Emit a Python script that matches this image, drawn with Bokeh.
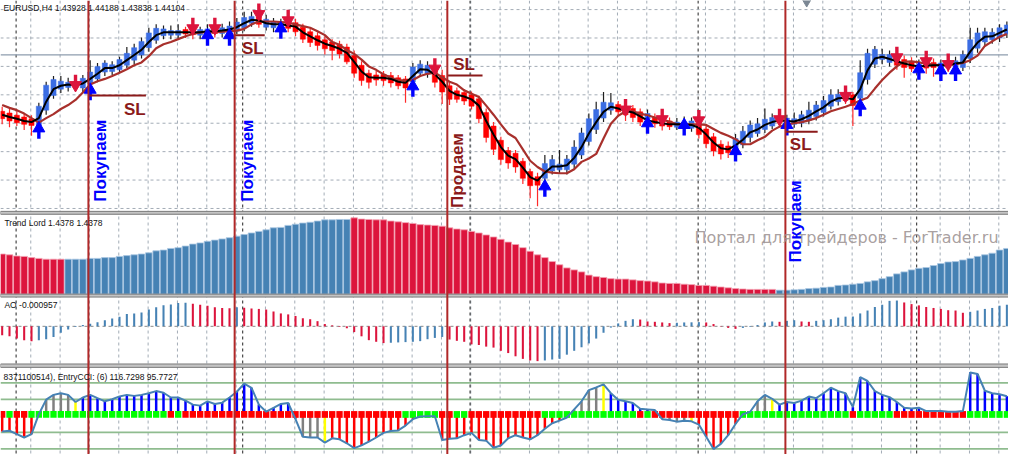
import math
from bokeh.plotting import figure
from bokeh.models import Range1d, Span, Label, ColumnDataSource
from bokeh.embed import file_html
from bokeh.resources import INLINE

# ---------------- data (EURUSD H4) ----------------
bar_open = [
    1.4311, 1.4308, 1.4304, 1.4301, 1.4298, 1.4286, 1.4313, 1.4339, 1.4350, 1.4353,
    1.4363, 1.4352, 1.4360, 1.4368, 1.4380, 1.4381, 1.4384, 1.4392, 1.4401, 1.4410,
    1.4423, 1.4436, 1.4444, 1.4445, 1.4445, 1.4455, 1.4455, 1.4445, 1.4446, 1.4458,
    1.4448, 1.4448, 1.4452, 1.4458, 1.4466, 1.4477, 1.4459, 1.4458, 1.4458, 1.4468,
    1.4467, 1.4459, 1.4451, 1.4444, 1.4437, 1.4433, 1.4429, 1.4424, 1.4409, 1.4392,
    1.4378, 1.4375, 1.4376, 1.4374, 1.4370, 1.4368, 1.4363, 1.4378, 1.4377, 1.4386,
    1.4374, 1.4356, 1.4347, 1.4344, 1.4340, 1.4333, 1.4309, 1.4285, 1.4260, 1.4242,
    1.4237, 1.4223, 1.4205, 1.4196, 1.4193, 1.4206, 1.4208, 1.4208, 1.4218, 1.4234,
    1.4258, 1.4279, 1.4299, 1.4313, 1.4323, 1.4319, 1.4316, 1.4310, 1.4297, 1.4300,
    1.4296, 1.4294, 1.4283, 1.4283, 1.4281, 1.4290, 1.4280, 1.4266, 1.4253, 1.4250,
    1.4243, 1.4252, 1.4265, 1.4272, 1.4279, 1.4285, 1.4301, 1.4289, 1.4288, 1.4290,
    1.4295, 1.4302, 1.4309, 1.4320, 1.4328, 1.4341, 1.4340, 1.4334, 1.4367, 1.4394,
    1.4402, 1.4397, 1.4406, 1.4402, 1.4398, 1.4385, 1.4397, 1.4397, 1.4387, 1.4398,
    1.4389, 1.4388, 1.4404, 1.4422, 1.4433, 1.4437, 1.4440, 1.4447]
bar_close = [
    1.4298, 1.4294, 1.4291, 1.4288, 1.4286, 1.4320, 1.4357, 1.4367, 1.4364, 1.4362,
    1.4353, 1.4369, 1.4380, 1.4390, 1.4396, 1.4393, 1.4402, 1.4413, 1.4423, 1.4434,
    1.4449, 1.4457, 1.4456, 1.4453, 1.4453, 1.4447, 1.4446, 1.4455, 1.4456, 1.4448,
    1.4458, 1.4461, 1.4468, 1.4476, 1.4478, 1.4464, 1.4473, 1.4468, 1.4468, 1.4457,
    1.4451, 1.4438, 1.4432, 1.4427, 1.4421, 1.4418, 1.4412, 1.4398, 1.4378, 1.4365,
    1.4362, 1.4366, 1.4365, 1.4361, 1.4356, 1.4352, 1.4389, 1.4394, 1.4392, 1.4362,
    1.4345, 1.4332, 1.4332, 1.4329, 1.4320, 1.4298, 1.4265, 1.4244, 1.4226, 1.4220,
    1.4213, 1.4193, 1.4180, 1.4181, 1.4219, 1.4226, 1.4218, 1.4227, 1.4248, 1.4273,
    1.4298, 1.4314, 1.4327, 1.4326, 1.4310, 1.4305, 1.4300, 1.4292, 1.4307, 1.4289,
    1.4285, 1.4284, 1.4292, 1.4292, 1.4294, 1.4270, 1.4254, 1.4241, 1.4236, 1.4238,
    1.4263, 1.4276, 1.4287, 1.4289, 1.4297, 1.4300, 1.4291, 1.4299, 1.4298, 1.4305,
    1.4313, 1.4322, 1.4330, 1.4340, 1.4341, 1.4330, 1.4321, 1.4379, 1.4413, 1.4420,
    1.4411, 1.4411, 1.4392, 1.4388, 1.4386, 1.4394, 1.4387, 1.4388, 1.4396, 1.4388,
    1.4400, 1.4411, 1.4437, 1.4449, 1.4451, 1.4450, 1.4458, 1.4463]
bar_high = [
    1.4319, 1.4316, 1.4311, 1.4307, 1.4304, 1.4326, 1.4363, 1.4373, 1.4373, 1.4370,
    1.4368, 1.4375, 1.4401, 1.4396, 1.4401, 1.4399, 1.4407, 1.4424, 1.4430, 1.4441,
    1.4458, 1.4464, 1.4462, 1.4462, 1.4464, 1.4460, 1.4462, 1.4460, 1.4464, 1.4464,
    1.4465, 1.4469, 1.4475, 1.4486, 1.4486, 1.4486, 1.4481, 1.4475, 1.4474, 1.4474,
    1.4474, 1.4465, 1.4457, 1.4450, 1.4443, 1.4438, 1.4435, 1.4430, 1.4418, 1.4399,
    1.4384, 1.4382, 1.4382, 1.4380, 1.4375, 1.4373, 1.4396, 1.4401, 1.4399, 1.4397,
    1.4384, 1.4362, 1.4353, 1.4350, 1.4346, 1.4339, 1.4316, 1.4292, 1.4266, 1.4248,
    1.4243, 1.4229, 1.4210, 1.4203, 1.4234, 1.4234, 1.4243, 1.4234, 1.4260, 1.4282,
    1.4307, 1.4328, 1.4345, 1.4343, 1.4329, 1.4329, 1.4322, 1.4316, 1.4314, 1.4307,
    1.4302, 1.4300, 1.4299, 1.4302, 1.4300, 1.4297, 1.4287, 1.4273, 1.4260, 1.4258,
    1.4271, 1.4285, 1.4295, 1.4299, 1.4316, 1.4307, 1.4309, 1.4305, 1.4309, 1.4312,
    1.4328, 1.4329, 1.4338, 1.4350, 1.4350, 1.4348, 1.4345, 1.4401, 1.4421, 1.4426,
    1.4421, 1.4418, 1.4413, 1.4409, 1.4406, 1.4402, 1.4404, 1.4404, 1.4402, 1.4406,
    1.4407, 1.4418, 1.4458, 1.4458, 1.4458, 1.4457, 1.4464, 1.4469]
bar_low = [
    1.4288, 1.4283, 1.4285, 1.4278, 1.4268, 1.4280, 1.4305, 1.4333, 1.4343, 1.4346,
    1.4348, 1.4343, 1.4353, 1.4362, 1.4373, 1.4375, 1.4379, 1.4387, 1.4394, 1.4404,
    1.4416, 1.4430, 1.4438, 1.4438, 1.4440, 1.4440, 1.4438, 1.4438, 1.4438, 1.4441,
    1.4441, 1.4441, 1.4447, 1.4452, 1.4460, 1.4458, 1.4453, 1.4450, 1.4450, 1.4450,
    1.4443, 1.4431, 1.4424, 1.4418, 1.4411, 1.4401, 1.4404, 1.4394, 1.4370, 1.4356,
    1.4351, 1.4356, 1.4356, 1.4353, 1.4350, 1.4326, 1.4356, 1.4372, 1.4370, 1.4353,
    1.4324, 1.4322, 1.4326, 1.4322, 1.4314, 1.4290, 1.4256, 1.4234, 1.4217, 1.4210,
    1.4203, 1.4183, 1.4158, 1.4144, 1.4178, 1.4200, 1.4202, 1.4200, 1.4210, 1.4227,
    1.4251, 1.4271, 1.4292, 1.4305, 1.4302, 1.4294, 1.4292, 1.4285, 1.4295, 1.4282,
    1.4277, 1.4278, 1.4278, 1.4280, 1.4275, 1.4263, 1.4246, 1.4232, 1.4226, 1.4229,
    1.4234, 1.4246, 1.4256, 1.4266, 1.4273, 1.4280, 1.4283, 1.4283, 1.4282, 1.4283,
    1.4288, 1.4295, 1.4302, 1.4314, 1.4321, 1.4324, 1.4285, 1.4326, 1.4358, 1.4387,
    1.4394, 1.4390, 1.4384, 1.4370, 1.4380, 1.4380, 1.4377, 1.4372, 1.4380, 1.4380,
    1.4382, 1.4382, 1.4396, 1.4414, 1.4426, 1.4430, 1.4433, 1.4440]
ma_fast = [
    1.4305, 1.4301, 1.4298, 1.4294, 1.4292, 1.4299, 1.4328, 1.4350, 1.4356, 1.4358,
    1.4357, 1.4360, 1.4368, 1.4377, 1.4387, 1.4387, 1.4392, 1.4401, 1.4410, 1.4419,
    1.4433, 1.4445, 1.4450, 1.4450, 1.4450, 1.4450, 1.4450, 1.4450, 1.4452, 1.4452,
    1.4453, 1.4455, 1.4459, 1.4466, 1.4472, 1.4471, 1.4466, 1.4464, 1.4464, 1.4462,
    1.4460, 1.4450, 1.4443, 1.4436, 1.4430, 1.4426, 1.4421, 1.4414, 1.4398, 1.4381,
    1.4371, 1.4370, 1.4370, 1.4368, 1.4363, 1.4361, 1.4373, 1.4385, 1.4384, 1.4376,
    1.4363, 1.4347, 1.4340, 1.4337, 1.4332, 1.4321, 1.4294, 1.4270, 1.4248, 1.4233,
    1.4227, 1.4212, 1.4195, 1.4189, 1.4203, 1.4214, 1.4214, 1.4216, 1.4229, 1.4248,
    1.4272, 1.4292, 1.4310, 1.4319, 1.4316, 1.4312, 1.4309, 1.4302, 1.4295, 1.4292,
    1.4290, 1.4288, 1.4288, 1.4288, 1.4287, 1.4282, 1.4270, 1.4256, 1.4246, 1.4244,
    1.4251, 1.4261, 1.4274, 1.4279, 1.4287, 1.4292, 1.4295, 1.4294, 1.4293, 1.4297,
    1.4303, 1.4311, 1.4318, 1.4328, 1.4334, 1.4335, 1.4332, 1.4350, 1.4383, 1.4404,
    1.4407, 1.4403, 1.4399, 1.4395, 1.4392, 1.4390, 1.4391, 1.4392, 1.4392, 1.4392,
    1.4395, 1.4397, 1.4416, 1.4432, 1.4442, 1.4443, 1.4449, 1.4455]
ma_slow = [
    1.4322, 1.4317, 1.4313, 1.4307, 1.4299, 1.4291, 1.4299, 1.4306, 1.4315, 1.4322,
    1.4331, 1.4344, 1.4358, 1.4364, 1.4368, 1.4373, 1.4379, 1.4385, 1.4392, 1.4397,
    1.4408, 1.4422, 1.4429, 1.4433, 1.4438, 1.4443, 1.4447, 1.4450, 1.4450, 1.4450,
    1.4451, 1.4452, 1.4453, 1.4456, 1.4464, 1.4469, 1.4469, 1.4469, 1.4468, 1.4467,
    1.4464, 1.4461, 1.4458, 1.4452, 1.4445, 1.4433, 1.4428, 1.4419, 1.4412, 1.4402,
    1.4390, 1.4384, 1.4376, 1.4370, 1.4366, 1.4365, 1.4366, 1.4373, 1.4377, 1.4379,
    1.4371, 1.4363, 1.4358, 1.4348, 1.4342, 1.4336, 1.4321, 1.4305, 1.4288, 1.4272,
    1.4264, 1.4244, 1.4224, 1.4213, 1.4205, 1.4203, 1.4202, 1.4202, 1.4209, 1.4222,
    1.4228, 1.4236, 1.4263, 1.4289, 1.4303, 1.4311, 1.4311, 1.4307, 1.4304, 1.4300,
    1.4296, 1.4293, 1.4288, 1.4288, 1.4288, 1.4288, 1.4287, 1.4280, 1.4273, 1.4268,
    1.4262, 1.4253, 1.4253, 1.4260, 1.4266, 1.4277, 1.4284, 1.4288, 1.4290, 1.4292,
    1.4295, 1.4299, 1.4305, 1.4311, 1.4315, 1.4319, 1.4324, 1.4330, 1.4335, 1.4351,
    1.4366, 1.4379, 1.4390, 1.4398, 1.4399, 1.4397, 1.4395, 1.4393, 1.4392, 1.4392,
    1.4394, 1.4396, 1.4401, 1.4409, 1.4426, 1.4434, 1.4442, 1.4447]
up_arrow_bar = [5, 12, 28, 31, 38, 56, 74, 88, 93, 100, 107, 117, 125, 128, 130]
up_arrow_price = [1.4288, 1.4356, 1.4452, 1.4452, 1.4464, 1.4362, 1.4186, 1.4297,
                  1.4294, 1.4248, 1.4294, 1.4328, 1.4392, 1.4390, 1.4390]
down_arrow_bar = [10, 26, 29, 35, 39, 59, 85, 90, 95, 106, 115, 122, 126, 129]
down_arrow_price = [1.4350, 1.4450, 1.4450, 1.4475, 1.4464, 1.4379, 1.4307, 1.4290,
                    1.4288, 1.4290, 1.4331, 1.4399, 1.4392, 1.4387]
price_grid = [1.4490, 1.4440, 1.4390, 1.4340, 1.4290, 1.4240, 1.4190, 1.4140]
bid_price = 1.44104

trend_lord = [
    1.4364, 1.4362, 1.4359, 1.4358, 1.4355, 1.4353, 1.4351, 1.4351, 1.4351,
    1.4351, 1.4351, 1.4351, 1.4353, 1.4353, 1.4355, 1.4355, 1.4358, 1.4360, 1.4362,
    1.4364, 1.4367, 1.4372, 1.4374, 1.4378, 1.4380, 1.4384, 1.4389, 1.4392, 1.4396,
    1.4399, 1.4402, 1.4405, 1.4409, 1.4413, 1.4417, 1.4421, 1.4425, 1.4430, 1.4431,
    1.4436, 1.4439, 1.4442, 1.4444, 1.4447, 1.4450, 1.4450, 1.4451, 1.4451,
    1.4455, 1.4452, 1.4451, 1.4450, 1.4450, 1.4447, 1.4445, 1.4443, 1.4441, 1.4438,
    1.4437, 1.4436, 1.4434, 1.4430, 1.4427, 1.4425, 1.4421, 1.4417, 1.4412, 1.4407, 1.4401,
    1.4394, 1.4388, 1.4380, 1.4371, 1.4362, 1.4355, 1.4345, 1.4337, 1.4329, 1.4324,
    1.4319, 1.4311, 1.4307, 1.4305, 1.4302, 1.4301, 1.4301, 1.4299, 1.4297, 1.4296,
    1.4294, 1.4291, 1.4290, 1.4290, 1.4288, 1.4287, 1.4285, 1.4285, 1.4283, 1.4281,
    1.4279, 1.4277, 1.4276, 1.4275, 1.4275, 1.4275, 1.4275,
    1.4273, 1.4273, 1.4274, 1.4275, 1.4277, 1.4278, 1.4280, 1.4281, 1.4285, 1.4286,
    1.4288, 1.4290, 1.4294, 1.4297, 1.4302, 1.4307, 1.4314, 1.4319, 1.4324, 1.4328,
    1.4330, 1.4335, 1.4340, 1.4344, 1.4345, 1.4349, 1.4353, 1.4358, 1.4362, 1.4366,
    1.4374, 1.4378]
trend_lord_dir = ("D" * 9 + "U" * 39 + "D" * 58 + "U" * 32)

ao = [
    -0.0014, -0.00155, -0.0019, -0.00215, -0.0023, -0.00215, -0.002, -0.00165, -0.001, -0.0005,
    -0.0001, 0.0002, 0.0004, 0.00065, 0.00095, 0.0012, 0.0015, 0.0019, 0.002, 0.00215,
    0.0026, 0.00295, 0.00325, 0.0034, 0.0036, 0.00365, 0.0035, 0.00335, 0.0032, 0.00295,
    0.00285, 0.0028, 0.00295, 0.0029, 0.00275, 0.0027, 0.0026, 0.0023, 0.002, 0.00185,
    0.0016, 0.00125, 0.0011, 0.0008, 0.00035, 0.00015, -0.0001, -0.0003, -0.0009, -0.00155,
    -0.00215, -0.0024, -0.0026, -0.00255, -0.0025, -0.00245, -0.0024, -0.0023, -0.002, -0.0018,
    -0.00165, -0.00205, -0.00225, -0.0024, -0.0028, -0.0029, -0.00315, -0.0033, -0.0038, -0.00415,
    -0.00465, -0.00505, -0.0053, -0.0054, -0.0053, -0.00515, -0.00505, -0.0044, -0.0038, -0.00325,
    -0.00265, -0.0019, -0.001, -0.0002, 0.00045, 0.00085, 0.0011, 0.00105, 0.00075, 0.0007,
    0.0006, 0.0005, 0.00055, 0.0006, 0.00062, 0.00065, 0.0006, 0.00035, 0.00005, -0.00025,
    -0.0004, -0.00025, -0.0001, 0.0002, 0.0006, 0.00075, 0.0007, 0.00085, 0.00095, 0.00075,
    0.0007, 0.00085, 0.00095, 0.0011, 0.00135, 0.0015, 0.00152, 0.002, 0.00245, 0.003,
    0.00335, 0.00395, 0.004, 0.0037, 0.00345, 0.00325, 0.003, 0.00285, 0.0027, 0.0025,
    0.00245, 0.0021, 0.00225, 0.00245, 0.0027, 0.00285, 0.0032, 0.00335]

cci = [
    -94, -90, -111, -131, -111, 10, 98, 127, 137, 127,
    84, 111, 127, 107, 88, 101, 117, 127, 121, 127,
    137, 150, 140, 111, 111, 92, 68, 62, 88, 72,
    80, 111, 146, 195, 170, 68, 25, 49, 72, 78,
    -20, -127, -131, -131, -162, -136, -142, -166, -195, -179,
    -156, -131, -103, -92, -88, -59, -20, -4, -2, -2,
    -146, -138, -136, -117, -103, -146, -150, -193, -179, -136,
    -117, -131, -142, -117, -78, -45, -29, -10, 39, 88,
    156, 172, 191, 137, 98, 88, 78, 43, 39, 35,
    -20, -25, -35, -29, -33, -53, -127, -201, -170, -117,
    -49, 10, 25, 88, 127, 103, 68, 84, 78, 92,
    117, 107, 137, 170, 150, 137, 53, 234, 211, 150,
    127, 113, 84, 49, 45, 49, 29, 29, 29, 25,
    25, 29, 263, 254, 152, 137, 131, 119]
cci_state = ("R" * 5 + "G" * 5 + "Y" + "B" * 29 + "G" * 4 + "Y" + "R" * 33 + "G" * 4 + "Y"
             + "B" * 7 + "G" * 4 + "Y" + "R" * 6 + "G" * 4 + "Y" + "B" * 32)
cci_band = ("R" + "G" + "R" * 2 + "G" * 19 + "R" + "G" + "R" * 30 + "G" * 5 + "R" * 2 + "G" * 2
            + "R" * 10 + "G" * 13 + "R" + "G" + "R" * 12 + "G" * 15 + "R" + "G" * 5 + "R" * 10 + "G" * 6)
cci_levels = [200, 100, -100, -200]

entry_bars = [11.76, 31.7, 60.7, 106.8]
period_separators = [1.9, 32.8, 63.8, 94.9, 124.7]
signal_text = ["Покупаем", "Покупаем", "Продаем", "Покупаем"]
signal_bar = [13.4, 33.5, 62.1, 108.2]
signal_price = [1.4152, 1.4152, 1.4141, 1.4045]
sl_bar_from = [11.9, 31.7, 60.8, 106.8]
sl_bar_to = [19.6, 35.8, 65.5, 111.2]
sl_price = [1.4339, 1.4445, 1.4374, 1.4275]
sl_label_bar = [16.6, 32.7, 61.5, 107.4]
sl_label_price = [1.4331, 1.4438, 1.4377, 1.4270]
sl_label_below = [True, True, False, True]

# ---------------- layout ----------------
REF_W, REF_H = 1024, 470
W, H = 1008, 454
BAR0_X, BAR_STEP = 1.7, 7.45

def bar_at(xref):
    return (xref - BAR0_X) / BAR_STEP

def full_range(v1, y1, v2, y2):
    per_px = (v1 - v2) / (y2 - y1)
    return Range1d(start=v2 - per_px * (REF_H - y2), end=v1 + per_px * y1)

main_range = full_range(price_grid[0], 9.4, price_grid[-1], 215.3)
TL_BASE = 1.4263
tl_range = full_range(1.4378, 256.7, TL_BASE, 304.0)
ao_range = full_range(0.0, 337.3, -0.0058, 376.0)
cci_range = full_range(100, 412.9, -100, 447.1)
PX = (main_range.end - main_range.start) / REF_H

n = len(bar_close)
idx = list(range(n))

p = figure(width=W, height=H, x_range=Range1d(bar_at(0), bar_at(REF_W)), y_range=main_range,
           output_backend="svg", toolbar_location=None, x_axis_location=None, y_axis_location=None,
           min_border=0, outline_line_color=None, background_fill_color="white",
           border_fill_color="white")
p.xgrid.visible = False
p.ygrid.visible = False
p.extra_y_ranges = {"tl": tl_range, "ao": ao_range, "cci": cci_range, "ref": Range1d(REF_H, 0)}
p.extra_x_ranges = {"refx": Range1d(0, REF_W)}

GRID = "#A3ACB6"
for j in range(34):
    p.add_layout(Span(location=3.9 + 4 * j, dimension="height", line_color=GRID,
                      line_dash="3 3", line_width=1, level="underlay"))
for k in period_separators:
    p.add_layout(Span(location=k, dimension="height", line_color="#222222",
                      line_dash="3 3", line_width=1, level="underlay"))
for v in price_grid:
    p.add_layout(Span(location=v, dimension="width", line_color=GRID,
                      line_dash="3 3", line_width=1, level="underlay"))
p.add_layout(Span(location=bid_price, dimension="width", line_color="#8E9DAE",
                  line_width=1.3, level="underlay"))

# ---------------- main price panel ----------------
up = [c >= o for o, c in zip(bar_open, bar_close)]
candles = ColumnDataSource(dict(
    x=idx, high=bar_high, low=bar_low,
    top=[max(o, c) for o, c in zip(bar_open, bar_close)],
    bottom=[min(o, c) for o, c in zip(bar_open, bar_close)],
    body=["#3B6DE3" if u else "#FF0000" for u in up],
    wick=["#1E1E1E" if u else "#FF2A2A" for u in up],
))
p.segment(x0="x", y0="high", x1="x", y1="low", line_color="wick", line_width=1.2, source=candles)
p.vbar(x="x", width=0.7, top="top", bottom="bottom", fill_color="body",
       line_color="body", line_width=0.5, source=candles)
p.line(idx, ma_slow, line_color="#A8302C", line_width=2.2)
p.line(idx, ma_fast, line_color="black", line_width=2)

# arrows
p.segment(x0=up_arrow_bar, x1=up_arrow_bar,
          y0=[v - 6 * PX for v in up_arrow_price], y1=[v - 15 * PX for v in up_arrow_price],
          line_color="#0000FF", line_width=3.4)
p.scatter(up_arrow_bar, [v - 4.2 * PX for v in up_arrow_price], marker="triangle",
          size=12, fill_color="#0000FF", line_color="#0000FF")
p.segment(x0=down_arrow_bar, x1=down_arrow_bar,
          y0=[v + 6 * PX for v in down_arrow_price], y1=[v + 15 * PX for v in down_arrow_price],
          line_color="#DC143C", line_width=3.4)
p.scatter(down_arrow_bar, [v + 4.2 * PX for v in down_arrow_price], marker="inverted_triangle",
          size=12, fill_color="#DC143C", line_color="#DC143C")

# stop-loss marks
p.segment(x0=sl_bar_from, x1=sl_bar_to, y0=sl_price, y1=sl_price,
          line_color="#8B1A1A", line_width=2)

# ---------------- Trend Lord ----------------
tl_up = [d == "U" for d in trend_lord_dir]
p.vbar(x=idx, width=0.9, top=trend_lord, bottom=TL_BASE,
       fill_color=["#4682B4" if u else "#DC143C" for u in tl_up],
       line_color=["#A9C6E2" if u else "#F4A3B4" for u in tl_up],
       line_width=0.8, y_range_name="tl")

# ---------------- AO ----------------
p.add_layout(Span(location=0, dimension="width", line_color="#8A8A8A", line_dash="3 3",
                  line_width=1, y_range_name="ao", level="underlay"))
ao_up = [False] + [ao[i] > ao[i - 1] for i in range(1, n)]
p.vbar(x=idx, width=0.28, top=ao, bottom=0,
       fill_color=["#4682B4" if u else "#DC143C" for u in ao_up],
       line_color=None, y_range_name="ao")

# ---------------- CCI ----------------
for lv in cci_levels:
    p.add_layout(Span(location=lv, dimension="width", line_color="#8FBC8F", line_width=1.6,
                      y_range_name="cci", level="underlay"))
state_color = {"R": "#FF0000", "B": "#0000FF", "G": "#808080", "Y": "#FFFF00"}
p.vbar(x=idx, width=0.34, top=cci, bottom=0,
       fill_color=[state_color[s] for s in cci_state], line_color=None, y_range_name="cci")
p.vbar(x=idx, width=0.86, top=29, bottom=-12,
       fill_color=["#00FF00" if s == "G" else "#FF0000" for s in cci_band],
       line_color=None, y_range_name="cci")
p.line(idx, cci, line_color="#4682B4", line_width=2, y_range_name="cci")

# ---------------- window separators ----------------
p.quad(left=[0, 0, 0], right=[REF_W] * 3, top=[218.3, 304.0, 376.3], bottom=[221.3, 307.0, 379.8],
       fill_color="#C4C4C4", line_color="#7A7A7A", line_width=1,
       x_range_name="refx", y_range_name="ref")
p.scatter([819], [0.8], marker="inverted_triangle", size=10, fill_color="#7B8794",
          line_color="#7B8794", x_range_name="refx", y_range_name="ref")

# ---------------- entry lines ----------------
for k in entry_bars:
    p.add_layout(Span(location=k, dimension="height", line_color="#B02828", line_width=2))

# ---------------- texts ----------------
HDR = dict(x_range_name="refx", y_range_name="ref", text_baseline="top",
           text_font="Liberation Sans", text_font_size="8.5px", text_color="#111111")
p.add_layout(Label(x=3, y=2.5, text="EURUSD,H4  1.43928 1.44188 1.43838 1.44104", **HDR))
p.add_layout(Label(x=4, y=225.5, text="Trend Lord 1.4378 1.4378", **HDR))
p.add_layout(Label(x=4, y=310.5, text="AO -0.000957", **HDR))
p.add_layout(Label(x=3, y=385, text="8371100514), EntryCCI: (6) 116.7298 95.7727", **HDR))
p.add_layout(Label(x=705, y=236, x_range_name="refx", y_range_name="ref",
                   text="Портал для трейдеров - ForTrader.ru", text_baseline="top",
                   text_font="DejaVu Sans", text_font_size="16px", text_color="#9E9494",
                   text_alpha=0.9))

for t, k, v in zip(signal_text, signal_bar, signal_price):
    p.add_layout(Label(x=k, y=v, text=t, angle=math.pi / 2, text_align="left",
                       text_baseline="middle", text_font="Liberation Sans",
                       text_font_style="bold", text_font_size="17px",
                       text_color="#0000FF" if t == "Покупаем" else "#8B1A1A"))
for k, v, below in zip(sl_label_bar, sl_label_price, sl_label_below):
    p.add_layout(Label(x=k, y=v, text="SL", text_align="left",
                       text_baseline="top" if below else "bottom",
                       text_font="Liberation Sans", text_font_style="bold",
                       text_font_size="17px", text_color="#8B1A1A"))

open("out.html", "w").write(file_html(p, INLINE))
